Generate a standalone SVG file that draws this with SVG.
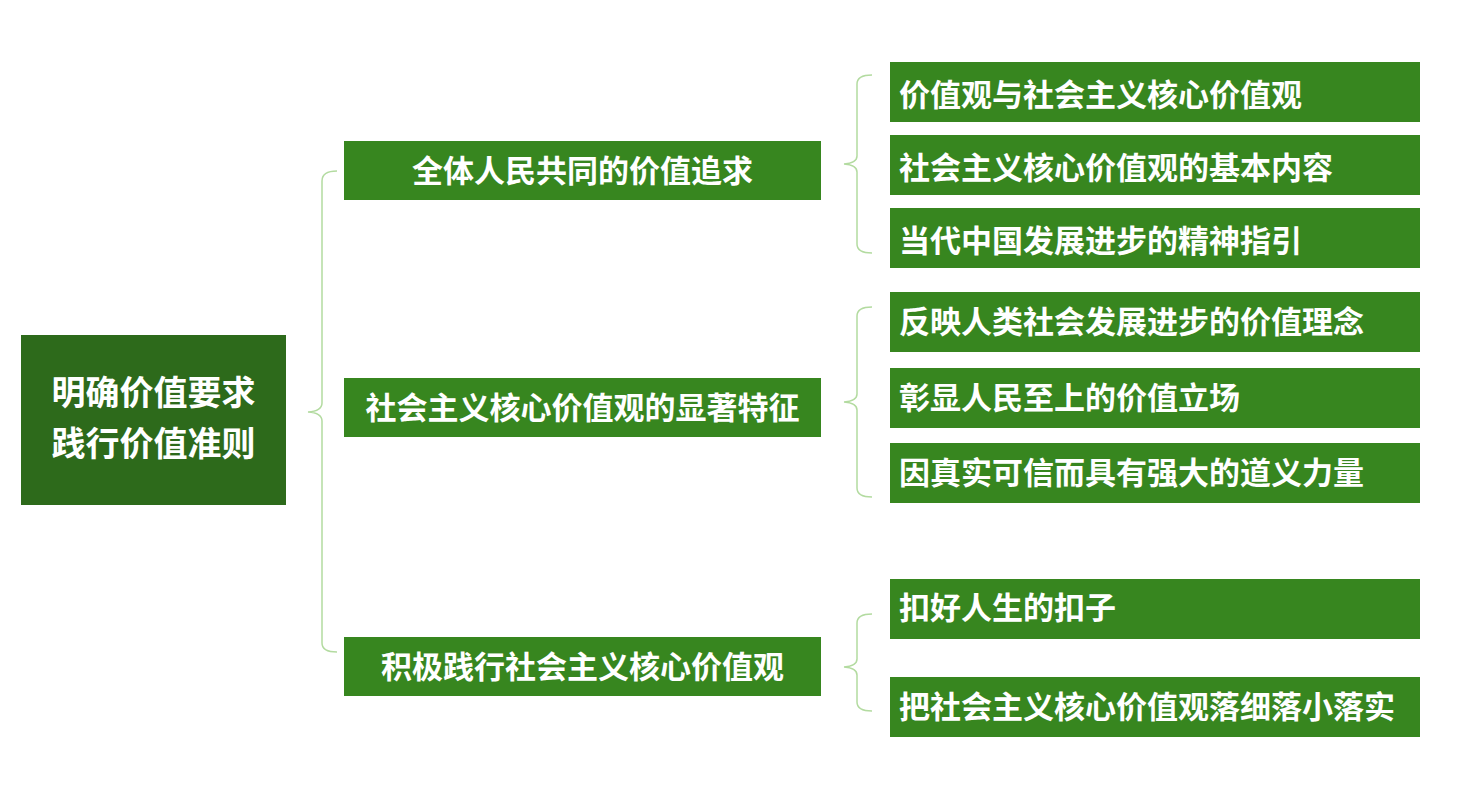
<svg xmlns="http://www.w3.org/2000/svg" width="1464" height="791" viewBox="0 0 1464 791">
<style>
.root{fill:#2d6a1b}
.box{fill:#37861f}
.t{font-family:"Noto Sans CJK SC","Noto Sans",sans-serif;font-weight:bold;fill:#ffffff}
.br{fill:none;stroke:#b3dba0;stroke-width:1.5}
</style>
<rect width="1464" height="791" fill="#ffffff"/>
<g id="connectors">
<path class="br" d="M337,171 Q322,171 322,181 L322,403 Q322,411 308,412 Q322,413 322,421 L322,643 Q322,652 337,652"/>
<path class="br" d="M872,75 Q857,75 857,84 L857,156 Q857,163 844,164 Q857,165 857,172 L857,244 Q857,253 872,253"/>
<path class="br" d="M872,307 Q857,307 857,316 L857,394 Q857,401 844,402 Q857,403 857,410 L857,488 Q857,497 872,497"/>
<path class="br" d="M872,614 Q857,614 857,623 L857,659 Q857,666 844,667 Q857,668 857,675 L857,702 Q857,711 872,711"/>
</g>
<g id="root">
<rect class="root" x="21" y="335" width="265" height="170"/>
<text class="t" x="153.5" y="405" font-size="34" text-anchor="middle">明确价值要求</text>
<text class="t" x="153.5" y="456" font-size="34" text-anchor="middle">践行价值准则</text>
</g>
<g id="n1">
<rect class="box" x="344" y="141" width="477" height="59"/>
<text class="t" x="582.5" y="182" font-size="31" text-anchor="middle">全体人民共同的价值追求</text>
</g>
<g id="n2">
<rect class="box" x="344" y="378" width="477" height="59"/>
<text class="t" x="582.5" y="419" font-size="31" text-anchor="middle">社会主义核心价值观的显著特征</text>
</g>
<g id="n3">
<rect class="box" x="344" y="637" width="477" height="59"/>
<text class="t" x="582.5" y="678" font-size="31" text-anchor="middle">积极践行社会主义核心价值观</text>
</g>
<g id="n1a">
<rect class="box" x="890" y="62" width="530" height="60"/>
<text class="t" x="899" y="106" font-size="31">价值观与社会主义核心价值观</text>
</g>
<g id="n1b">
<rect class="box" x="890" y="135" width="530" height="60"/>
<text class="t" x="899" y="179" font-size="31">社会主义核心价值观的基本内容</text>
</g>
<g id="n1c">
<rect class="box" x="890" y="208" width="530" height="60"/>
<text class="t" x="899" y="252" font-size="31">当代中国发展进步的精神指引</text>
</g>
<g id="n2a">
<rect class="box" x="890" y="292" width="530" height="60"/>
<text class="t" x="899" y="333" font-size="31">反映人类社会发展进步的价值理念</text>
</g>
<g id="n2b">
<rect class="box" x="890" y="368" width="530" height="60"/>
<text class="t" x="899" y="409" font-size="31">彰显人民至上的价值立场</text>
</g>
<g id="n2c">
<rect class="box" x="890" y="443" width="530" height="60"/>
<text class="t" x="899" y="484" font-size="31">因真实可信而具有强大的道义力量</text>
</g>
<g id="n3a">
<rect class="box" x="890" y="579" width="530" height="60"/>
<text class="t" x="899" y="619" font-size="31">扣好人生的扣子</text>
</g>
<g id="n3b">
<rect class="box" x="890" y="677" width="530" height="60"/>
<text class="t" x="899" y="718" font-size="31">把社会主义核心价值观落细落小落实</text>
</g>
</svg>
